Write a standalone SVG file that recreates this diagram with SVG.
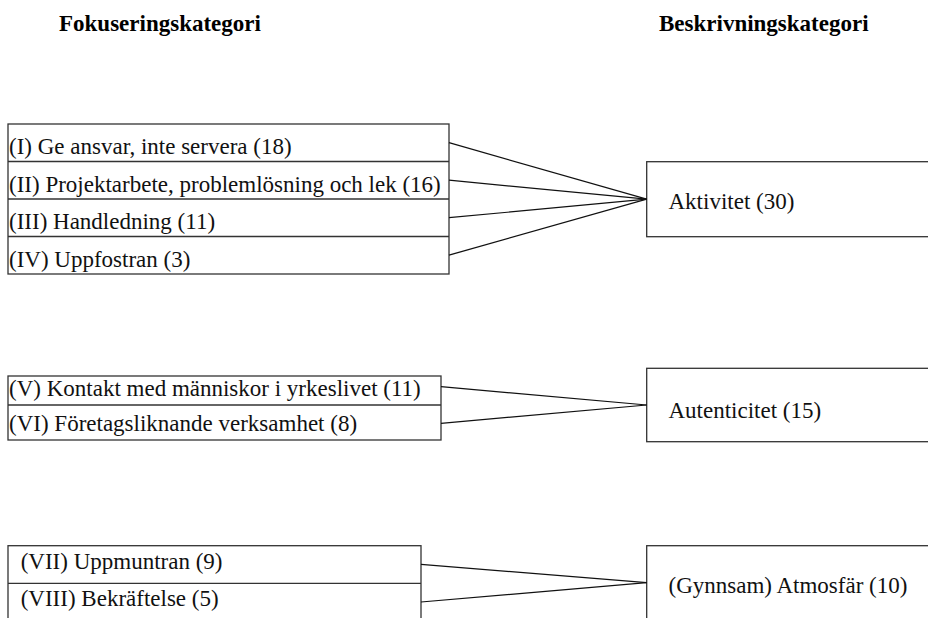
<svg xmlns="http://www.w3.org/2000/svg" width="928" height="618" viewBox="0 0 928 618">
  <style>
    .box { fill: #ffffff; stroke: #333333; stroke-width: 1.3; }
    .sep { stroke: #333333; stroke-width: 1.3; }
    .link { stroke: #111111; stroke-width: 1.2; fill: none; }
    .lbl { font-family: "Liberation Serif", "Times New Roman", serif; font-size: 23px; fill: #111111; }
    .head { font-family: "Liberation Serif", "Times New Roman", serif; font-size: 23px; font-weight: bold; fill: #000000; }
  </style>
  <rect width="928" height="618" fill="#ffffff"/>

  <!-- column headings -->
  <text class="head" x="59" y="31">Fokuseringskategori</text>
  <text class="head" x="659" y="31">Beskrivningskategori</text>

  <!-- focus categories, group 1 -->
  <g id="focus-1">
    <rect class="box" x="8" y="124" width="441" height="150"/>
    <line class="sep" x1="8" y1="161.5" x2="449" y2="161.5"/>
    <line class="sep" x1="8" y1="199" x2="449" y2="199"/>
    <line class="sep" x1="8" y1="236.5" x2="449" y2="236.5"/>
    <text class="lbl" x="9" y="154">(I) Ge ansvar, inte servera (18)</text>
    <text class="lbl" x="9" y="191.5">(II) Projektarbete, problemlösning och lek (16)</text>
    <text class="lbl" x="9" y="229">(III) Handledning (11)</text>
    <text class="lbl" x="9" y="266.5">(IV) Uppfostran (3)</text>
  </g>

  <!-- focus categories, group 2 -->
  <g id="focus-2">
    <rect class="box" x="8" y="376" width="433" height="64"/>
    <line class="sep" x1="8" y1="405" x2="441" y2="405"/>
    <text class="lbl" x="9" y="396">(V) Kontakt med människor i yrkeslivet (11)</text>
    <text class="lbl" x="9" y="431">(VI) Företagsliknande verksamhet (8)</text>
  </g>

  <!-- focus categories, group 3 -->
  <g id="focus-3">
    <rect class="box" x="8" y="545.7" width="413" height="80"/>
    <line class="sep" x1="8" y1="583.3" x2="421" y2="583.3"/>
    <text class="lbl" x="20.7" y="569">(VII) Uppmuntran (9)</text>
    <text class="lbl" x="20.7" y="606">(VIII) Bekräftelse (5)</text>
  </g>

  <!-- description categories -->
  <g id="aktivitet">
    <rect class="box" x="646.7" y="161.7" width="300" height="75"/>
    <text class="lbl" x="668.5" y="208.5">Aktivitet (30)</text>
  </g>
  <g id="autenticitet">
    <rect class="box" x="646.7" y="368.3" width="300" height="73.4"/>
    <text class="lbl" x="668.5" y="418.3">Autenticitet (15)</text>
  </g>
  <g id="atmosfar">
    <rect class="box" x="646.7" y="545.7" width="300" height="80"/>
    <text class="lbl" x="668.5" y="593.3">(Gynnsam) Atmosfär (10)</text>
  </g>

  <!-- connectors -->
  <g id="connectors">
    <line class="link" x1="449" y1="142.7" x2="646.7" y2="199.2"/>
    <line class="link" x1="449" y1="180.2" x2="646.7" y2="199.2"/>
    <line class="link" x1="449" y1="217.7" x2="646.7" y2="199.2"/>
    <line class="link" x1="449" y1="255.2" x2="646.7" y2="199.2"/>
    <line class="link" x1="441" y1="386.7" x2="646.7" y2="405"/>
    <line class="link" x1="441" y1="423.3" x2="646.7" y2="405"/>
    <line class="link" x1="421" y1="564.3" x2="646.7" y2="582.7"/>
    <line class="link" x1="421" y1="602" x2="646.7" y2="582.7"/>
  </g>
</svg>
